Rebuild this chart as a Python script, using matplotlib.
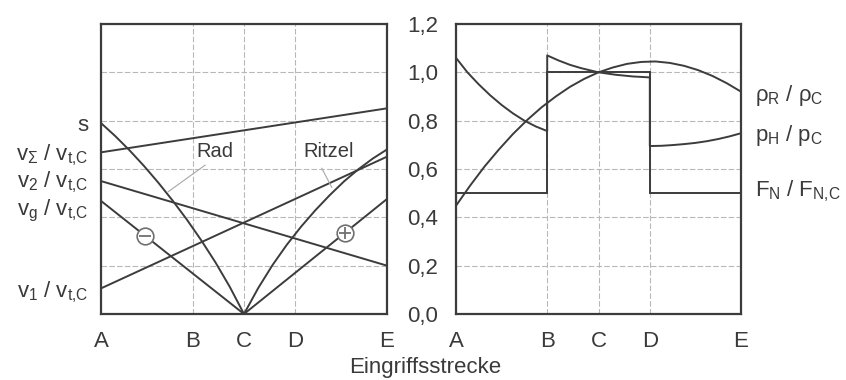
import numpy as np
import matplotlib
matplotlib.use("Agg")
import matplotlib.pyplot as plt

plt.rcParams["font.family"] = ["Liberation Sans", "DejaVu Sans"]
plt.rcParams["mathtext.fontset"] = "custom"
plt.rcParams["mathtext.rm"] = "Liberation Sans"
plt.rcParams["mathtext.it"] = "Liberation Sans"
plt.rcParams["mathtext.bf"] = "Liberation Sans:bold"

# Eingriffspunkte entlang der Eingriffsstrecke (A..E normiert auf 0..1)
punkte = ["A", "B", "C", "D", "E"]
punkt_x = [0.0, 0.32, 0.5, 0.68, 1.0]

# linkes Diagramm: Geschwindigkeiten und spezifisches Gleiten
gerade_x = [0.0, 1.0]
v_sum = [0.669, 0.851]
v_2 = [0.550, 0.200]
v_1 = [0.106, 0.651]
vg_x = [0.0, 0.5, 1.0]
v_g = [0.468, 0.0, 0.476]

s_rad_x = [0.0, 0.05, 0.10, 0.15, 0.20, 0.25, 0.30, 0.35, 0.40, 0.45, 0.50]
s_rad = [0.79, 0.736, 0.677, 0.613, 0.544, 0.470, 0.391, 0.306, 0.214, 0.113, 0.0]
s_ritzel_x = [0.50, 0.55, 0.60, 0.65, 0.70, 0.75, 0.80, 0.85, 0.90, 0.95, 1.0]
s_ritzel = [0.0, 0.108, 0.203, 0.287, 0.362, 0.430, 0.492, 0.549, 0.599, 0.643, 0.681]

# rechtes Diagramm: Normalkraft, Ersatzkruemmungsradius, Hertzsche Pressung
fn_kanten = [0.0, 0.32, 0.68, 1.0]
fn = [0.5, 1.0, 0.5]

rho_x = [0.0, 0.05, 0.10, 0.15, 0.20, 0.25, 0.30, 0.35, 0.40, 0.45, 0.50,
         0.55, 0.60, 0.65, 0.70, 0.75, 0.80, 0.85, 0.90, 0.95, 1.0]
rho = [0.448, 0.532, 0.61, 0.68, 0.745, 0.803, 0.855, 0.90, 0.94, 0.973, 1.0,
       1.02, 1.035, 1.043, 1.045, 1.039, 1.027, 1.009, 0.985, 0.955, 0.92]

ph_x = [0.0, 0.04, 0.08, 0.12, 0.16, 0.20, 0.24, 0.28, 0.32,
        0.32, 0.36, 0.40, 0.44, 0.50, 0.56, 0.62, 0.68,
        0.68, 0.72, 0.76, 0.80, 0.84, 0.88, 0.92, 0.96, 1.0]
ph = [1.06, 1.0, 0.95, 0.905, 0.865, 0.83, 0.80, 0.776, 0.757,
      1.07, 1.049, 1.031, 1.017, 1.0, 0.99, 0.983, 0.979,
      0.695, 0.696, 0.699, 0.703, 0.708, 0.715, 0.724, 0.735, 0.748]

y_gitter = [0.0, 0.2, 0.4, 0.6, 0.8, 1.0, 1.2]
y_beschr = ["0,0", "0,2", "0,4", "0,6", "0,8", "1,0", "1,2"]

linie = "#3c3c3c"
gitter = "#b8b8b8"
schrift = "#3a3a3a"
fs = 16

fig = plt.figure(figsize=(8.46, 3.80), dpi=100)
ax1 = fig.add_axes([101 / 846, 66 / 380, 286 / 846, 290 / 380])
ax2 = fig.add_axes([456 / 846, 66 / 380, 285 / 846, 290 / 380])

for ax in (ax1, ax2):
    ax.set_xlim(0, 1)
    ax.set_ylim(0, 1.2)
    ax.set_xticks(punkt_x, punkte, fontsize=fs, color=schrift)
    ax.set_yticks(y_gitter)
    ax.tick_params(length=0)
    ax.tick_params(axis="x", pad=12)
    ax.grid(True, color=gitter, lw=0.8, ls=(0, (5, 2)))
    ax.set_axisbelow(True)
    for sp in ax.spines.values():
        sp.set_color(linie)
        sp.set_linewidth(1.6)

ax1.set_yticklabels([])
ax2.set_yticklabels(y_beschr, fontsize=fs, color=schrift)
ax2.tick_params(axis="y", pad=13)

kw = dict(color=linie, lw=1.4, solid_capstyle="round", solid_joinstyle="round")
ax1.plot(gerade_x, v_sum, **kw)
ax1.plot(gerade_x, v_2, **kw)
ax1.plot(gerade_x, v_1, **kw)
ax1.plot(vg_x, v_g, **kw)
ax1.plot(s_rad_x, s_rad, **kw)
ax1.plot(s_ritzel_x, s_ritzel, **kw)

# Vorzeichen des Gleitens auf der v_g-Linie
for xs, zeichen in ((0.154, "_"), (0.853, "+")):
    ys = np.interp(xs, vg_x, v_g)
    ax1.plot(xs, ys, "o", ms=12, mfc="white", mec="#707070", mew=1.2, zorder=5)
    ax1.plot(xs, ys, zeichen, ms=9, mec="#707070", mew=1.3, zorder=6)

ax1.text(0.397, 0.672, "Rad", fontsize=14.5, color=schrift, ha="center", va="center")
ax1.text(0.797, 0.672, "Ritzel", fontsize=14.5, color=schrift, ha="center", va="center")
ax1.plot([0.364, 0.235], [0.616, 0.506], color="#a8a8a8", lw=0.8)
ax1.plot([0.772, 0.807], [0.603, 0.524], color="#a8a8a8", lw=0.8)

# Kurvenbezeichnungen links neben dem Diagramm
links = [
    (0.78, r"s"),
    (0.658, r"$v_\Sigma$ / $v_{t{,}C}$"),
    (0.546, r"$v_2$ / $v_{t{,}C}$"),
    (0.428, r"$v_g$ / $v_{t{,}C}$"),
    (0.091, r"$v_1$ / $v_{t{,}C}$"),
]
for yv, txt in links:
    ax1.text(-0.045, yv, txt, transform=ax1.get_yaxis_transform(),
             fontsize=fs, color=schrift, ha="right", va="center")

ax2.stairs(fn, fn_kanten, baseline=None, color=linie, lw=1.4)
ax2.plot(rho_x, rho, **kw)
ax2.plot(ph_x, ph, **kw)

rechts = [
    (0.905, r"$\rho_R$ / $\rho_C$"),
    (0.74, r"$p_H$ / $p_C$"),
    (0.51, r"$F_N$ / $F_{N{,}C}$"),
]
for yv, txt in rechts:
    ax2.text(1.05, yv, txt, transform=ax2.get_yaxis_transform(),
             fontsize=fs, color=schrift, ha="left", va="center")

fig.text(425 / 846, 1 - 368 / 380, "Eingriffsstrecke", fontsize=fs,
         color=schrift, ha="center", va="center")

fig.savefig("out.png", dpi=100)
